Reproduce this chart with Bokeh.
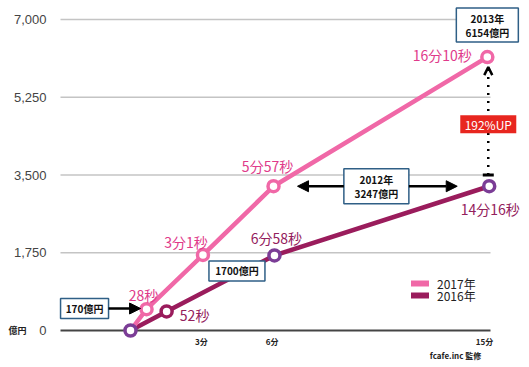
from bokeh.plotting import figure
from bokeh.models import Range1d, Arrow, NormalHead, OpenHead
from bokeh.core.properties import value
from bokeh.embed import file_html
from bokeh.resources import INLINE

# ---------------- data ----------------
series_names = ["2017年", "2016年"]
x_2017 = [0.0, 0.68, 3.07, 6.06, 15.12]      # plotted position (minutes axis)
y_2017 = [0, 480, 1700, 3247, 6154]           # 億円
lab_2017 = ["", "28秒", "3分1秒", "5分57秒", "16分10秒"]
x_2016 = [0.0, 1.53, 6.1, 15.2]
y_2016 = [0, 430, 1690, 3247]
lab_2016 = ["", "52秒", "6分58秒", "14分16秒"]
y_ticks = [0, 1750, 3500, 5250, 7000]
y_tick_labels = [f"{v:,}" for v in y_ticks]
x_ticks = [3, 6, 15]
x_tick_labels = ["3分", "6分", "15分"]
unit_label = "億円"
credit = "fcafe.inc 監修"
box_texts = ["170億円", "1700億円", "2012年\n3247億円", "2013年\n6154億円"]
up_text = "192%UP"

# ---------------- style ----------------
PINK = "#f068a7"
PINK_TXT = "#e03a8a"
MAG = "#9a1c5c"
MAG_TXT = "#93205c"
PURPLE = "#7b3d96"
BOXLINE = "#2f5f86"
CJK = value("Noto Sans CJK JP")

W, H = 524, 364
PXX = 23.6            # px per minute
PXY = 311.0 / 7000.0  # px per 億円
xs = -130 / PXX
ye = 7000 + 19 / PXY

p = figure(width=W, height=H, output_backend="svg", toolbar_location=None,
           x_range=Range1d(xs, xs + W / PXX), y_range=Range1d(ye - H / PXY, ye),
           min_border=0)
p.xgrid.visible = False
p.ygrid.visible = False
p.axis.visible = False
p.outline_line_color = None

# grid lines (start at the plot's left edge, stop short of the right edge)
gx0 = -70 / PXX
gx1 = 360 / PXX
gl = y_ticks[1:]
p.segment(x0=[gx0] * len(gl), y0=gl, x1=[gx1] * len(gl), y1=gl,
          line_color="#c4c4c4", line_width=1.5)
p.segment(x0=[gx0], y0=[y_ticks[0]], x1=[gx1], y1=[y_ticks[0]],
          line_color="#444444", line_width=2)

# tick labels
p.text([-84 / PXX] * len(y_ticks), y_ticks, text=y_tick_labels,
       text_color="#444444", text_font=value("Liberation Sans"),
       text_font_size="13px", text_align="right", text_baseline="middle")
p.text(x_ticks, [0] * len(x_ticks), text=x_tick_labels, y_offset=11,
       text_color="#222222", text_font=CJK, text_font_style="bold",
       text_font_size="8px", text_align="center", text_baseline="middle")
p.text([-113 / PXX], [0], text=[unit_label], text_color="#222222", text_font=CJK,
       text_font_style="bold", text_font_size="9px", text_align="center",
       text_baseline="middle")
p.text([325 / PXX], [0], text=[credit], y_offset=25, text_color="#222222",
       text_font=CJK, text_font_style="bold", text_font_size="8px",
       text_align="center", text_baseline="middle")

# lines
p.line(x_2016, y_2016, line_color=MAG, line_width=4.5)
p.line(x_2017, y_2017, line_color=PINK, line_width=4.5)

# markers
p.scatter(x_2017[1:], y_2017[1:], size=11, fill_color="white",
          line_color=PINK, line_width=3.5)
c16 = [PURPLE, MAG, PURPLE, PURPLE]
p.scatter(x_2016, y_2016, size=11, fill_color="white",
          line_color=c16, line_width=3.5)

# point labels
p.text(x_2017[1:], y_2017[1:], text=lab_2017[1:],
       x_offset=[-3, -17, -6, -45], y_offset=[-14, -13, -20, -2],
       text_color=PINK_TXT, text_font=CJK, text_font_size="14px",
       text_align="center", text_baseline="middle")
p.text(x_2016[1:], y_2016[1:], text=lab_2016[1:],
       x_offset=[28, 2, 1], y_offset=[4, -17, 23],
       text_color=MAG_TXT, text_font=CJK, text_font_size="14px",
       text_align="center", text_baseline="middle")

# dotted growth line (under the red label)
xm = (x_2017[4] + x_2016[3]) / 2
p.segment(x0=[xm], y0=[y_ticks[2]], x1=[xm], y1=[y_2017[4] - 12 / PXY],
          line_color="black", line_width=2.5, line_dash="2 6")
p.segment(x0=[xm - 5.5 / PXX], y0=[y_ticks[2]], x1=[xm + 5.5 / PXX], y1=[y_ticks[2]],
          line_color="black", line_width=3)
p.add_layout(Arrow(x_start=xm, y_start=y_2017[4] - 16 / PXY, x_end=xm,
                   y_end=y_2017[4] - 10 / PXY, line_alpha=0,
                   end=OpenHead(size=8, line_width=2.5, line_color="black")))

# red label
ry = (y_2017[4] + y_2016[3]) / 2 - 60
p.rect([xm], [ry], width=56, height=18, width_units="screen", height_units="screen",
       fill_color="#e8261f", line_color=None)
p.text([xm], [ry], text=[up_text], text_color="white", text_font=CJK,
       text_font_size="12px", text_align="center", text_baseline="middle")

# annotation boxes (anchored relative to data points)
bx = [x_2017[1] - 62 / PXX, x_2017[2] + 34 / PXX,
      (x_2017[3] + x_2016[3]) / 2 - 5 / PXX, x_2017[4]]
by = [y_2017[1] + 15, y_2017[2] - 16 / PXY,
      y_2017[3], y_2017[4] + 32 / PXY]
bw = [48, 56, 65, 62]
bh = [20, 20, 35, 34]
p.rect(bx, by, width=bw, height=bh, width_units="screen", height_units="screen",
       fill_color="white", line_color=BOXLINE, line_width=1.5)
tx, ty, tt, toff = [], [], [], []
for x, y, t in zip(bx, by, box_texts):
    lines = t.split("\n")
    n = len(lines)
    for i, s in enumerate(lines):
        tx.append(x)
        ty.append(y)
        tt.append(s)
        toff.append((i - (n - 1) / 2) * 14)
p.text(tx, ty, text=tt, y_offset=toff, text_color="#111111", text_font=CJK,
       text_font_style="bold", text_font_size="10px",
       text_align="center", text_baseline="middle")

# arrows
head = dict(size=11, fill_color="black", line_color="black")
p.add_layout(Arrow(x_start=bx[0] + bw[0] / 2 / PXX, y_start=by[0],
                   x_end=x_2017[1] - 6 / PXX, y_end=by[0],
                   line_width=2.5, line_color="black", end=NormalHead(**head)))
p.add_layout(Arrow(x_start=bx[2] - bw[2] / 2 / PXX, y_start=by[2],
                   x_end=x_2017[3] + 24 / PXX, y_end=by[2],
                   line_width=2.5, line_color="black", end=NormalHead(**head)))
p.add_layout(Arrow(x_start=bx[2] + bw[2] / 2 / PXX, y_start=by[2],
                   x_end=x_2016[3] - 32 / PXX, y_end=by[2],
                   line_width=2.5, line_color="black", end=NormalHead(**head)))

# legend (manual)
leg_colors = [PINK, MAG]
lx = 289.5 / PXX
ly = [(47 - 12 * i) / PXY for i in range(len(series_names))]
p.rect([lx] * 2, ly, width=18, height=6, width_units="screen", height_units="screen",
       fill_color=leg_colors, line_color=None)
p.text([lx] * 2, ly, text=series_names, x_offset=17, text_color="#222222",
       text_font=CJK, text_font_size="12px", text_align="left",
       text_baseline="middle")

open("out.html", "w").write(file_html(p, INLINE))
